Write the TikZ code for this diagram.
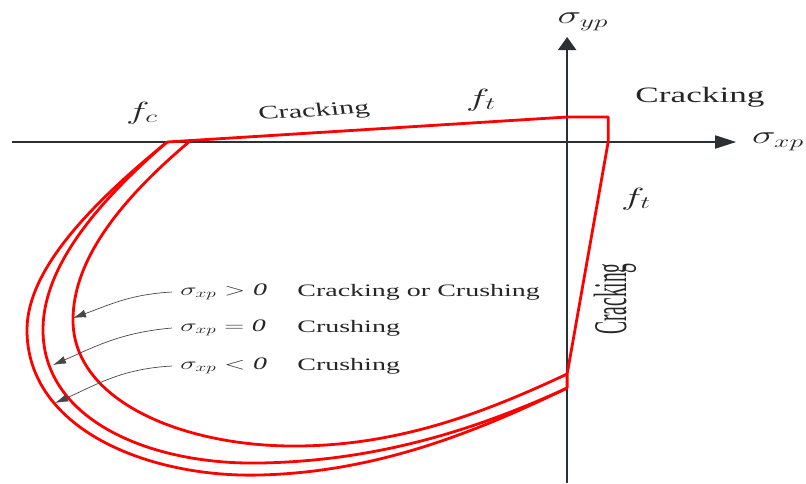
\documentclass[tikz,border=0pt]{standalone}
\usepackage{fontspec}
\setmainfont{Liberation Serif}
\usepackage{tikz}
\usetikzlibrary{arrows.meta,positioning}
\definecolor{ink}{HTML}{262626}
\definecolor{axis}{HTML}{2B3035}
\definecolor{envelope}{HTML}{FF0000}

\begin{document}
\begin{tikzpicture}[x=0.625pt,y=-1pt,xscale=1.6,
    every node/.style={transform shape,inner sep=0pt,text=ink},
    envline/.style={draw=envelope,line width=2.8pt,line join=round},
    axisline/.style={draw=axis,line width=1.8pt},
    pointer/.style={draw=ink!85,line width=0.7pt,-{Latex[length=13pt,width=8pt]}},
    regime/.style={font=\fontsize{17.5}{20}\selectfont,anchor=west},
    biglabel/.style={font=\fontsize{22}{26}\selectfont},
    flabel/.style={font=\fontsize{26}{30}\selectfont},
    stresslabel/.style={font=\fontsize{26}{30}\selectfont},
  ]
  \useasboundingbox (0,0) rectangle (806,483);

  % axes
  \coordinate (xstart) at (12,142);
  \coordinate (xend) at (736,142);
  \coordinate (ybot) at (567,483);
  \coordinate (ytop) at (567,37);
  \draw[axisline,-{Triangle[length=21pt,width=13pt]}] (xstart) -- (xend);
  \draw[axisline,-{Triangle[length=13pt,width=18pt]}] (ybot) -- (ytop);

  % failure envelope
  \coordinate (fc) at (167,142);
  \coordinate (fcin) at (190,141);
  \coordinate (ttop) at (567,117);
  \coordinate (tcorner) at (608,117);
  \coordinate (tside) at (608,142);
  \coordinate (tbot) at (567,374);
  \coordinate (cbot) at (567,388);
  \draw[envline] (cbot) -- (tbot) -- (tside) -- (tcorner) -- (ttop) -- (fc);
  % sigma < 0
  \draw[envline] (fc) .. controls (90,205) and (27,270) .. (27,330)
    .. controls (27,430) and (150,478) .. (260,475)
    .. controls (380,472) and (480,430) .. (cbot);
  % sigma = 0
  \draw[envline] (fc) .. controls (100,200) and (43,265) .. (43,330)
    .. controls (43,420) and (150,465) .. (260,463)
    .. controls (380,461) and (480,428) .. (cbot);
  % sigma > 0
  \draw[envline] (fcin) .. controls (120,200) and (73,260) .. (73,320)
    .. controls (73,400) and (180,445) .. (290,446)
    .. controls (400,447) and (490,410) .. (tbot);

  % labels
  \node[stresslabel] (syp) at (583,22) {$\sigma_{yp}$};
  \node[stresslabel] (sxp) at (778,142) {$\sigma_{xp}$};
  \node[flabel] (fcl) at (142,113) {$f_c$};
  \node[flabel] (ftl) at (481,100) {$f_t$};
  \node[flabel] (ftr) at (636,199) {$f_t$};
  \node[biglabel] (crackright) at (700,97) {Cracking};
  \node[font=\fontsize{19}{22}\selectfont,rotate=5.7] (cracktop) at (314,112) {Cracking};
  \node[font=\fontsize{19.5}{22}\selectfont,rotate=90] (crackside) at (615,299)
    {\scalebox{1}[1.5]{Cracking}};

  % stress regimes
  \node[regime,inner xsep=5pt] (gt) at (172,292) {$\sigma_{xp}>\mathit{0}$};
  \node[regime] (gttext) at (297,292) {Cracking or Crushing};
  \node[regime,inner xsep=5pt] (eq) at (172,328) {$\sigma_{xp}=\mathit{0}$};
  \node[regime] (eqtext) at (297,328) {Crushing};
  \node[regime,inner xsep=5pt] (lt) at (172,366) {$\sigma_{xp}<\mathit{0}$};
  \node[regime] (lttext) at (297,366) {Crushing};

  \coordinate (hitgt) at (73,318);
  \coordinate (hiteq) at (53,365);
  \coordinate (hitlt) at (55,403);
  \draw[pointer] (gt.west) to[out=185,in=30] (hitgt);
  \draw[pointer] (eq.west) to[out=188,in=35] (hiteq);
  \draw[pointer] (lt.west) to[out=185,in=35] (hitlt);
\end{tikzpicture}
\end{document}
